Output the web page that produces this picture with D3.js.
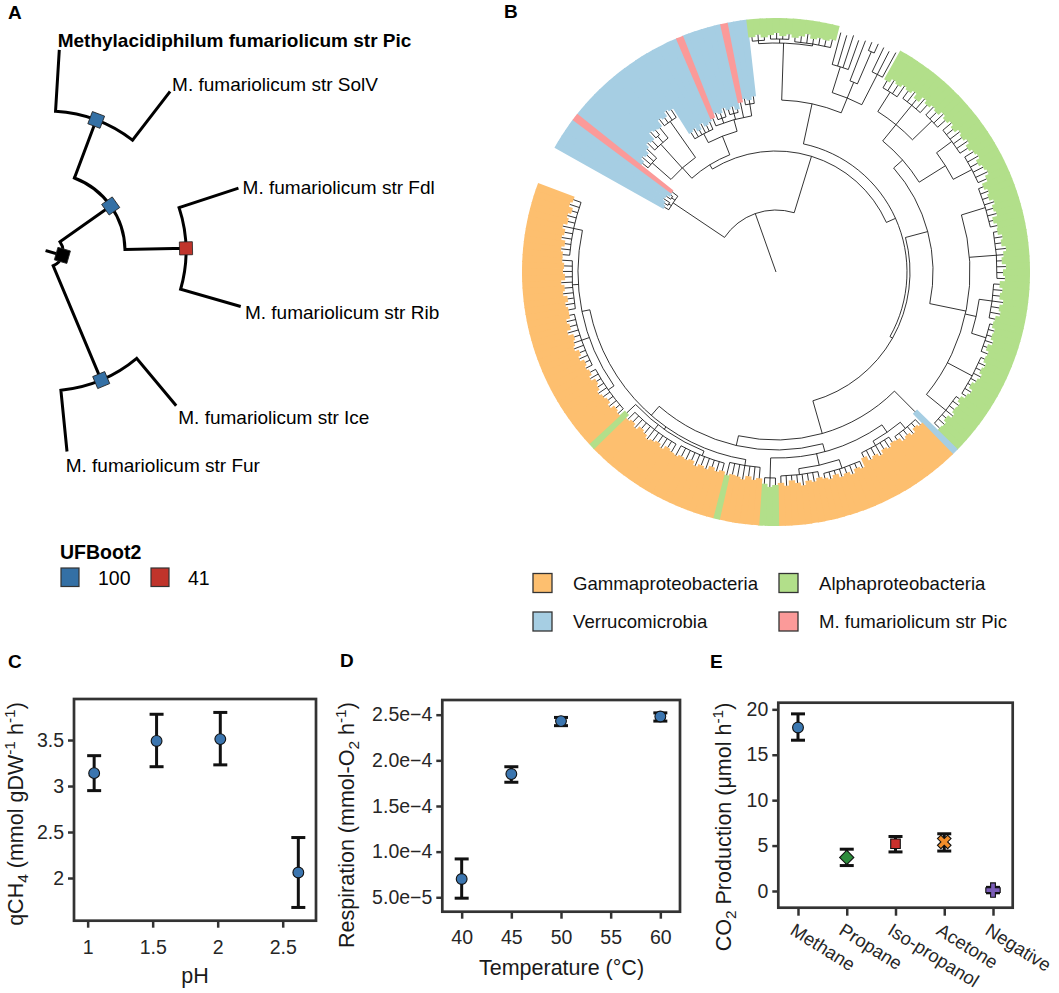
<!DOCTYPE html>
<html><head><meta charset="utf-8">
<script src="https://cdn.jsdelivr.net/npm/d3@7"></script>
<style>
body{margin:0;background:#fff;}
svg{display:block;font-family:"Liberation Sans",Arial,Helvetica,sans-serif;background:#fff;}
</style></head><body>
<svg id="fig" width="1059" height="993"></svg>
<script>
// ================= DATA =================
// Panel A: strain tree (h = divergence from centre, boot = UFBoot2 support)
const strainTree = {h:0.08, boot:null, children:[
  {h:0.39, boot:100, children:[
    {h:0.70, boot:100, children:[
      {name:"Methylacidiphilum fumariolicum str Pic", h:1.0},
      {name:"M. fumariolicum str SolV", h:1.0}]},
    {h:0.695, boot:41, children:[
      {name:"M. fumariolicum str Fdl", h:1.0},
      {name:"M. fumariolicum str Rib", h:1.0}]}]},
  {h:0.70, boot:100, children:[
    {name:"M. fumariolicum str Ice", h:1.0},
    {name:"M. fumariolicum str Fur", h:1.0}]}
]};
const focalStrain = "Methylacidiphilum fumariolicum str Pic";
const bootLevels = [100, 41];
const bootColors = ["#3470a5", "#c0342b"];
const bootTitle = "UFBoot2";

// Panel B: reference tree. internal node = [depth, ...children]; leaf = clade code + depth
const cladeCodes  = ["G", "A", "V", "P"];
const cladeNames  = ["Gammaproteobacteria", "Alphaproteobacteria", "Verrucomicrobia", "M. fumariolicum str Pic"];
const cladeColors = ["#fdbf6f", "#b2df8a", "#a6cee3", "#fb9a99"];
const referenceTree =
[62,
 [124, "V129", [127, "V131", "V134"], [128, "V133", "V130"], "P131"],
 [121,
  [126,
   [140,
    [165, "V172", "V176", "V174", "V178"],
    [172, "V182", "V180", [180, "V188", "V186"], "V185"],
    [184, "V192", "V190", "V195", "V193"]],
   [146,
    [156, "V163", "V165", "V161", "V166", "V162", "V164"],
    [158, "P166", [163, "V170", "V168", "V172"], [164, "V169", "V171", "V167"], "P173", [170, "V176", "V174", "V177"]]]],
  [131,
   [172,
    [229, [232, "A236", "A238", "A235"], [233, "A237", "A239", "A236", "A238"], [231, "A235", "A237", "A240", "A236", "A238", "A237", "A239"]],
    [188, [215, "N248", "N247", "N249", "N246"], [205, "N248", [240, "N249", "N250"]], [222, "N249", "N248", "N250"]]],
   [134,
    [157,
     [169,
      [190, [213, "A221", "A225", "A223", "A226"], [215, "A224", "A227", "A222", "A228", "A225"], [217, "A228", "A226", "A230", "A227"]],
      [200, [219, "A230", "A227", "A231", "A229", "A232", "A228"], [221, "A231", "A233", "A229", "A232", "A234", "A230"]]],
     [194,
      [219, "A224", "A227", "A225", "A229", "A226", "A228", "A223", "A226"],
      [221, "A225", "A229", "A227", "A231", "A228", "A226", "A230", "A227", "A229"],
      [205, [218, "A224", "A227", "A225", "A229", "A226", "A228", "A224"], [220, "A223", "A226", "A225", "A228", "A224", "A227"]],
      [222, "A226", "A229", "A227", "A230", "A228", "A225", "A229", "A227"],
      [219, "A223", "A226", "A225", "A228", "A224", "A227", "A226"]]],
    [168, "V197",
     [178,
      [186,
       [195, [203, "G210", "G208", "G212", "G209", "G211", "G207"], [200, "G206", "G209", "G207", "G211", "G208", "G210", "G205"]],
       [198, [207, "G214", "G212", "G216", "G213", "G215", "G211", "G214", "G212"], [204, "G210", "G213", "G211", "G215", "G212", "G209", "G214", "G211"]],
       [206, "A213", "A215", "A212"]],
      [190,
       [196, "G207", "G209", "G206", "G210", "G208", "G207", "A209"],
       [193, [198, "G206", "G208", "G205", "G209", "G207", "G210", "G206", "G208", "G207", "G209"],
             [199, "G208", "G206", "G210", "G207", "G209", "G211", "G208", "G206", "G210", "G207", "G209"], "A205"],
       [198, [205, "G212", "G210", "G214", "G211", "G213", "G215", "G212", "G210", "G214", "G211"],
             [206, "G213", "G211", "G215", "G212", "G216", "G214", "G212", "G217", "G213", "G215", "G211"],
             [204, "G211", "G213", "G210", "G214", "G212", "G215", "G211", "G213", "G212", "G214"],
             [207, "G214", "G216", "G213", "G217", "G215", "G218", "G214", "G216", "G213", "G217", "G215"]]]]]]]]];

// Panel C: methane uptake vs pH
const phValues  = [1.05, 1.53, 2.02, 2.62];
const qch4Mean  = [3.14, 3.49, 3.51, 2.06];
const qch4Low   = [2.95, 3.21, 3.23, 1.68];
const qch4High  = [3.33, 3.78, 3.80, 2.44];
const phTicks   = [1, 1.5, 2, 2.5];
const qch4Ticks = [2, 2.5, 3, 3.5];

// Panel D: respiration vs temperature
const tempValues = [40, 45, 50, 60];
const respMean   = [7.0e-5, 1.85e-4, 2.43e-4, 2.48e-4];
const respLow    = [4.9e-5, 1.76e-4, 2.38e-4, 2.43e-4];
const respHigh   = [9.2e-5, 1.93e-4, 2.47e-4, 2.52e-4];
const tempTicks  = [40, 45, 50, 55, 60];
const respTicks  = [5e-5, 1e-4, 1.5e-4, 2e-4, 2.5e-4];
const respTickLabels = ["5.0e\u22125", "1.0e\u22124", "1.5e\u22124", "2.0e\u22124", "2.5e\u22124"];

// Panel E: CO2 production per substrate
const substrates = ["Methane", "Propane", "Iso-propanol", "Acetone", "Negative"];
const co2Mean  = [18.0, 3.7, 5.2, 5.4, 0.1];
const co2Low   = [16.6, 2.8, 4.3, 4.4, -0.2];
const co2High  = [19.5, 4.6, 6.0, 6.3, 0.4];
const co2Ticks = [0, 5, 10, 15, 20];
const substrateColors = ["#3b78b1", "#2d8c3c", "#c9302c", "#f28e2b", "#7b5db8"];
const substrateShapes = ["circle", "diamond", "square", "x", "plus"];

// ================= DRAWING =================
const svg = d3.select("#fig");
const FONT = '"Liberation Sans", Arial, Helvetica, sans-serif';
const rad = a => a * Math.PI / 180;
const polar = (c, a, r) => [c.x + r * Math.sin(rad(a)), c.y - r * Math.cos(rad(a))];
function arcTo(p, c, r, a1, a2) {
  if (r <= 0) return;
  const s = polar(c, a1, r);
  p.moveTo(s[0], s[1]);
  p.arc(c.x, c.y, r, rad(a1 - 90), rad(a2 - 90), false);
}
function treePath(root, c) {
  const p = d3.path();
  const e = polar(c, root.ang, root.r);
  p.moveTo(c.x, c.y); p.lineTo(e[0], e[1]);
  root.descendants().forEach(n => {
    if (n.parent) {
      const s = polar(c, n.ang, n.parent.r), t = polar(c, n.ang, n.r);
      p.moveTo(s[0], s[1]); p.lineTo(t[0], t[1]);
    }
    if (n.children) {
      const angs = n.children.map(k => k.ang);
      arcTo(p, c, n.r, d3.min(angs), d3.max(angs));
    }
  });
  return p.toString();
}
function panelLabel(t, x, y) {
  svg.append("text").attr("x", x).attr("y", y).attr("font-size", 19).attr("font-weight", "bold").attr("fill", "#000").text(t);
}

// ---------- Panel A ----------
panelLabel("A", 8, 18.5);
const gA = svg.append("g");
const cA = {x: 47, y: 251};
const rA = d3.scaleLinear().domain([0, 1]).range([0, 200]);
const rootA = d3.hierarchy(strainTree);
const leavesA = rootA.leaves();
const angA = d3.scaleLinear().domain([0, leavesA.length - 1]).range([3.5, 174.3]);
leavesA.forEach((l, i) => l.ang = angA(i));
rootA.eachAfter(n => { n.r = rA(n.data.h); if (n.children) n.ang = d3.mean(n.children, k => k.ang); });
gA.append("path").attr("d", treePath(rootA, cA)).attr("fill", "none").attr("stroke", "#000")
  .attr("stroke-width", 3).attr("stroke-linecap", "square");
rootA.descendants().filter(n => n.children).forEach(n => {
  const [x, y] = polar(cA, n.ang, n.r);
  const col = n.data.boot == null ? "#000" : bootColors[bootLevels.indexOf(n.data.boot)];
  gA.append("rect").attr("x", -6.5).attr("y", -6.5).attr("width", 13).attr("height", 13)
    .attr("transform", `translate(${x},${y}) rotate(${n.ang})`)
    .attr("fill", col).attr("stroke", "#222").attr("stroke-width", 0.8);
});
leavesA.forEach(l => {
  const [x, y] = polar(cA, l.ang, l.r);
  gA.append("text").attr("x", x + 8 * Math.sin(rad(l.ang)) - 2).attr("y", y - 13 * Math.cos(rad(l.ang)) + 2.5)
    .attr("dominant-baseline", "central").attr("font-size", 19)
    .attr("font-weight", l.data.name === focalStrain ? "bold" : "normal").attr("fill", "#000").text(l.data.name);
});
// legend A
const gLA = svg.append("g");
gLA.append("text").attr("x", 60).attr("y", 552).attr("dominant-baseline", "central").attr("font-size", 19.5)
  .attr("font-weight", "bold").text(bootTitle);
const legAx = d3.scalePoint().domain(bootLevels).range([61, 151]);
bootLevels.forEach((b, i) => {
  gLA.append("rect").attr("x", legAx(b)).attr("y", 568).attr("width", 18).attr("height", 18.5)
    .attr("fill", bootColors[i]).attr("stroke", "#333").attr("stroke-width", 1.2);
  gLA.append("text").attr("x", legAx(b) + 37).attr("y", 577.5).attr("dominant-baseline", "central")
    .attr("font-size", 19.5).text(b);
});

// ---------- Panel B ----------
panelLabel("B", 504, 18);
const gB = svg.append("g");
const cB = {x: 776, y: 272};
const rB = d3.scaleLinear().domain([0, 254]).range([0, 254]);
const rootB = d3.hierarchy(referenceTree, d => Array.isArray(d) ? d.slice(1) : null);
rootB.each(n => { const d = n.data; n.dv = Array.isArray(d) ? d[0] : +d.slice(1); n.grp = Array.isArray(d) ? null : d[0]; });
const leavesB = rootB.leaves();
const angB = d3.scaleLinear().domain([0, leavesB.length]).range([299.4, 299.4 + 351]);
leavesB.forEach((l, i) => { l.idx = i; l.ang = angB(i + 0.5); });
rootB.eachAfter(n => { n.r = rB(n.dv); if (n.children) n.ang = d3.mean(n.children, k => k.ang); });
const wedge = d3.arc();
const hl = leavesB.filter(l => cladeCodes.includes(l.grp)).sort((a, b) => (a.grp === "P") - (b.grp === "P"));
gB.selectAll("path.hl").data(hl).join("path").attr("class", "hl")
  .attr("transform", `translate(${cB.x},${cB.y})`)
  .attr("d", l => wedge({innerRadius: rB(l.dv), outerRadius: rB.range()[1],
      startAngle: rad(angB(l.idx) - 0.12), endAngle: rad(angB(l.idx + 1) + 0.12)}))
  .attr("fill", l => cladeColors[cladeCodes.indexOf(l.grp)]);
gB.append("path").attr("d", treePath(rootB, cB)).attr("fill", "none").attr("stroke", "#000").attr("stroke-width", 0.8);
// legend B
const gLB = svg.append("g");
const legCol = [533, 779], legRow = [583, 621.5];
cladeNames.forEach((nm, i) => {
  const x = legCol[i % 2], y = legRow[Math.floor(i / 2)];
  gLB.append("rect").attr("x", x).attr("y", y - 9.5).attr("width", 19).attr("height", 19)
    .attr("fill", cladeColors[i]).attr("stroke", "#333").attr("stroke-width", 1.3);
  gLB.append("text").attr("x", x + 40).attr("y", y).attr("dominant-baseline", "central")
    .attr("font-size", 18.6).attr("fill", "#111").text(nm);
});

// ---------- shared helpers for C, D, E ----------
function frame(g, x, y) {
  const [x0, x1] = x.range(), [y0, y1] = y.range();
  g.append("rect").attr("x", x0).attr("y", y1).attr("width", x1 - x0).attr("height", y0 - y1)
    .attr("fill", "none").attr("stroke", "#333").attr("stroke-width", 2.7);
}
function styleAxis(sel) {
  sel.select(".domain").remove();
  sel.selectAll(".tick line").attr("stroke", "#333").attr("stroke-width", 2.5);
  sel.selectAll(".tick text").attr("fill", "#262626").attr("font-size", 19.5).attr("font-family", FONT);
}
function rich(sel, parts, size) {
  let shift = 0;
  parts.forEach(([t, m]) => {
    const target = m === "sub" ? 5 : m === "sup" ? -8 : 0;
    sel.append("tspan").attr("dy", target - shift).attr("font-size", m ? size * 0.72 : size).text(t);
    shift = target;
  });
}
function yTitle(parts, x, y) {
  const t = svg.append("text").attr("transform", `translate(${x},${y}) rotate(-90)`)
    .attr("text-anchor", "middle").attr("fill", "#1a1a1a").attr("font-size", 21.5);
  rich(t, parts, 21.5);
}
function xTitle(txt, x, y) {
  svg.append("text").attr("x", x).attr("y", y).attr("text-anchor", "middle").attr("fill", "#1a1a1a")
    .attr("font-size", 21.5).text(txt);
}
function errorBars(g, xs, lo, hi, x, y) {
  xs.forEach((v, i) => {
    const cx = x(v);
    g.append("line").attr("x1", cx).attr("x2", cx).attr("y1", y(lo[i])).attr("y2", y(hi[i]));
    [lo[i], hi[i]].forEach(e => g.append("line").attr("x1", cx - 7).attr("x2", cx + 7).attr("y1", y(e)).attr("y2", y(e)));
  });
  g.selectAll("line").attr("stroke", "#111").attr("stroke-width", 3);
}

// ---------- Panel C ----------
panelLabel("C", 8, 668);
const xC = d3.scaleLinear().domain([0.895, 2.756]).range([74, 316]);
const yC = d3.scaleLinear().domain([1.536, 3.946]).range([920.7, 699]);
const gC = svg.append("g");
gC.append("g").attr("transform", `translate(0,${yC.range()[0]})`)
  .call(d3.axisBottom(xC).tickValues(phTicks).tickSize(7).tickPadding(12).tickFormat(d3.format("~g"))).call(styleAxis);
gC.append("g").attr("transform", `translate(${xC.range()[0]},0)`)
  .call(d3.axisLeft(yC).tickValues(qch4Ticks).tickSize(6).tickPadding(4).tickFormat(d3.format("~g"))).call(styleAxis);
frame(gC, xC, yC);
errorBars(gC.append("g"), phValues, qch4Low, qch4High, xC, yC);
gC.selectAll("circle.pt").data(phValues).join("circle").attr("class", "pt")
  .attr("cx", d => xC(d)).attr("cy", (d, i) => yC(qch4Mean[i])).attr("r", 5.4)
  .attr("fill", "#3b75af").attr("stroke", "#111").attr("stroke-width", 1.1);
yTitle([["qCH"], ["4", "sub"], [" (mmol gDW"], ["-1", "sup"], [" h"], ["-1", "sup"], [")"]], 22.5, 814);
xTitle("pH", 195, 982.5);

// ---------- Panel D ----------
panelLabel("D", 340, 667);
const xD = d3.scaleLinear().domain([38.05, 61.98]).range([442.3, 680]);
const yD = d3.scaleLinear().domain([3.42e-5, 2.661e-4]).range([911.7, 700]);
const gD = svg.append("g");
gD.append("g").attr("transform", `translate(0,${yD.range()[0]})`)
  .call(d3.axisBottom(xD).tickValues(tempTicks).tickSize(7).tickPadding(11).tickFormat(d3.format("d"))).call(styleAxis);
gD.append("g").attr("transform", `translate(${xD.range()[0]},0)`)
  .call(d3.axisLeft(yD).tickValues(respTicks).tickSize(6).tickPadding(4).tickFormat((d, i) => respTickLabels[i])).call(styleAxis);
frame(gD, xD, yD);
errorBars(gD.append("g"), tempValues, respLow, respHigh, xD, yD);
gD.selectAll("circle.pt").data(tempValues).join("circle").attr("class", "pt")
  .attr("cx", d => xD(d)).attr("cy", (d, i) => yD(respMean[i])).attr("r", 5.4)
  .attr("fill", "#3b75af").attr("stroke", "#111").attr("stroke-width", 1.1);
yTitle([["Respiration (mmol-O"], ["2", "sub"], [" h"], ["-1", "sup"], [")"]], 354, 825);
xTitle("Temperature (\u00B0C)", 561.5, 975);

// ---------- Panel E ----------
panelLabel("E", 710, 668);
const xE = d3.scalePoint().domain(substrates).range([778.3, 1012.7]).padding(0.404);
const yE = d3.scaleLinear().domain([-1.84, 20.73]).range([907.7, 702.7]);
const gE = svg.append("g");
gE.append("g").attr("transform", `translate(0,${yE.range()[0]})`)
  .call(d3.axisBottom(xE).tickSize(8).tickFormat(() => "")).call(styleAxis);
gE.append("g").attr("transform", `translate(${xE.range()[0]},0)`)
  .call(d3.axisLeft(yE).tickValues(co2Ticks).tickSize(6).tickPadding(4).tickFormat(d3.format("d"))).call(styleAxis);
frame(gE, xE, yE);
substrates.forEach(s => {
  gE.append("text").attr("transform", `translate(${xE(s) - 9},933.5) rotate(32)`)
    .attr("font-size", 18.5).attr("fill", "#262626").text(s);
});
errorBars(gE.append("g"), substrates, co2Low, co2High, xE, yE);
const symType = {circle: d3.symbolCircle, diamond: d3.symbolSquare, square: d3.symbolSquare, x: d3.symbolCross, plus: d3.symbolCross};
const symSize = {circle: 92, diamond: 100, square: 92, x: 115, plus: 115};
const symRot  = {circle: 0, diamond: 45, square: 0, x: 45, plus: 0};
gE.selectAll("path.pt").data(substrates).join("path").attr("class", "pt")
  .attr("d", (s, i) => d3.symbol(symType[substrateShapes[i]], symSize[substrateShapes[i]])())
  .attr("transform", (s, i) => `translate(${xE(s)},${yE(co2Mean[i])}) rotate(${symRot[substrateShapes[i]]})`)
  .attr("fill", (s, i) => substrateColors[i]).attr("stroke", "#111").attr("stroke-width", 1.1);
yTitle([["CO"], ["2", "sub"], [" Production (\u03BCmol h"], ["-1", "sup"], [")"]], 731, 827);
</script>
</body></html>
